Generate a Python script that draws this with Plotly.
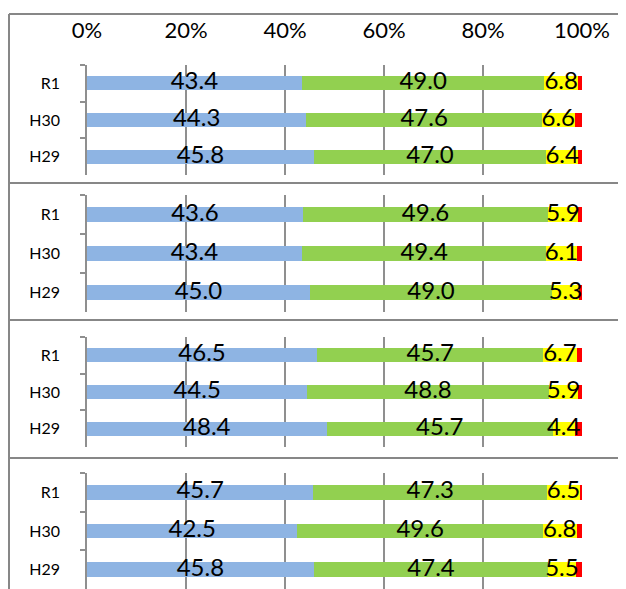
import plotly.graph_objects as go

# page body margin of 8px is compensated by shrinking the figure
OFF = 8
W, H = 626 - OFF, 589 - OFF

categories = ["R1", "H30", "H29"]
blue = [[43.4, 44.3, 45.8], [43.6, 43.4, 45.0], [46.5, 44.5, 48.4], [45.7, 42.5, 45.8]]
green = [[49.0, 47.6, 47.0], [49.6, 49.4, 49.0], [45.7, 48.8, 45.7], [47.3, 49.6, 47.4]]
yellow = [[6.8, 6.6, 6.4], [5.9, 6.1, 5.3], [6.7, 5.9, 4.4], [6.5, 6.8, 5.5]]
red = [[0.8, 1.5, 0.8], [0.9, 1.1, 0.7], [1.1, 0.8, 1.5], [0.5, 1.1, 1.3]]
x_ticks = [0, 20, 40, 60, 80, 100]

colors = ["#8EB4E3", "#92D050", "#FFFF00", "#FF0000"]
GRID = "#8f8f8f"
BORDER = "#878787"
FONT = "Lato"

# panel axis extents in reference pixels (top, bottom)
panels_px = [(65, 175), (195, 312), (337, 447), (473, 589)]
x_left_px, x_right_px = 87, 582


def py(p):
    return min(1, max(0, 1 - (p - OFF) / H))


def px(p):
    return min(1, max(0, (p - OFF) / W))


fig = go.Figure()

for i in range(4):
    xa = "x" if i == 0 else f"x{i+1}"
    ya = "y" if i == 0 else f"y{i+1}"
    series = [blue[i], green[i], yellow[i], red[i]]
    for s, vals in enumerate(series):
        fig.add_trace(go.Bar(
            y=categories, x=vals, orientation="h",
            marker=dict(color=colors[s], line=dict(width=0)),
            width=0.38, xaxis=xa, yaxis=ya, showlegend=False,
            hoverinfo="skip",
        ))
    # data labels centered in blue/green/yellow segments
    for s in range(3):
        mids = []
        for k in range(3):
            start = sum(series[j][k] for j in range(s))
            mids.append(start + series[s][k] / 2)
        fig.add_trace(go.Scatter(
            x=mids, y=categories, mode="text",
            text=[f"{v:.1f}" for v in series[s]],
            textposition="middle center",
            textfont=dict(family=FONT, size=24, color="black"),
            xaxis=xa, yaxis=ya, showlegend=False, hoverinfo="skip",
            cliponaxis=False,
        ))

layout = dict(
    width=W, height=H,
    margin=dict(l=0, r=0, t=0, b=0, pad=0, autoexpand=False),
    paper_bgcolor="white", plot_bgcolor="white",
    barmode="stack",
    font=dict(family=FONT, color="black"),
)

for i, (top, bot) in enumerate(panels_px):
    xk = "xaxis" if i == 0 else f"xaxis{i+1}"
    yk = "yaxis" if i == 0 else f"yaxis{i+1}"
    ya = "y" if i == 0 else f"y{i+1}"
    xa = "x" if i == 0 else f"x{i+1}"
    layout[xk] = dict(
        domain=[px(x_left_px), px(x_right_px)],
        range=[0, 100], tickvals=x_ticks,
        ticktext=[f"{t}%" for t in x_ticks],
        showgrid=True, gridcolor=GRID, gridwidth=1.5,
        zeroline=False, showline=False, ticks="",
        showticklabels=(i == 0), side="top",
        tickfont=dict(family=FONT, size=22, color="black"),
        ticklabelstandoff=22,
        anchor=ya, fixedrange=True, automargin=False,
    )
    layout[yk] = dict(
        domain=[py(bot), py(top)],
        categoryorder="array", categoryarray=categories,
        autorange="reversed",
        showline=True, linecolor=GRID, linewidth=1.5,
        ticks="outside", tickson="boundaries", ticklen=5,
        tickcolor=GRID, tickwidth=1.5,
        tickfont=dict(family=FONT, size=16, color="black"),
        ticklabelstandoff=22,
        showgrid=False, zeroline=False,
        anchor=xa, fixedrange=True, automargin=False,
    )

fig.update_layout(**layout)

# panel frame lines
shapes = []
shapes.append(dict(type="line", xref="paper", yref="paper",
                   x0=px(9), x1=1, y0=py(14), y1=py(14),
                   line=dict(color=BORDER, width=2)))
shapes.append(dict(type="line", xref="paper", yref="paper",
                   x0=px(9), x1=px(9), y0=py(14), y1=0,
                   line=dict(color=BORDER, width=2)))
for yp in [183, 320, 458]:
    shapes.append(dict(type="line", xref="paper", yref="paper",
                       x0=px(9), x1=1, y0=py(yp), y1=py(yp),
                       line=dict(color=BORDER, width=2)))
fig.update_layout(shapes=shapes)

fig.write_html("out.html")
